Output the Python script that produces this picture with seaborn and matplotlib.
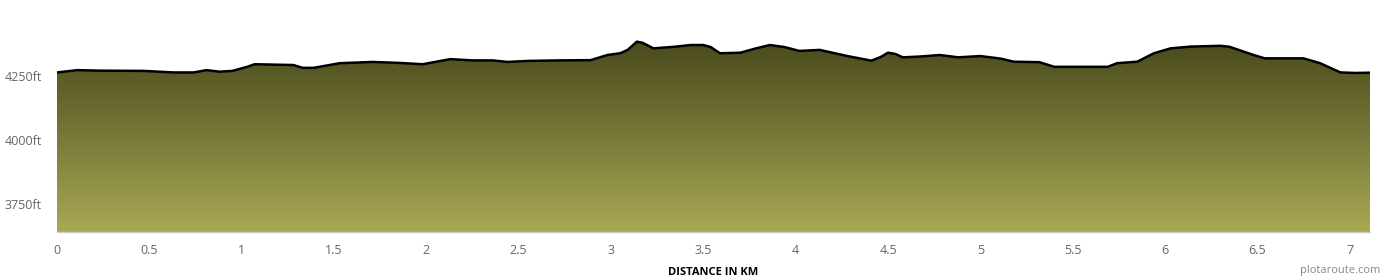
import numpy as np
import pandas as pd
import matplotlib
matplotlib.use("Agg")
import matplotlib.pyplot as plt
from matplotlib.colors import LinearSegmentedColormap
import seaborn as sns

distance_km = [0.0, 0.11, 0.23, 0.47, 0.63, 0.74, 0.81, 0.88, 0.95, 1.03, 1.07, 1.28, 1.33, 1.39,
               1.53, 1.71, 1.86, 1.98, 2.13, 2.25, 2.36, 2.44, 2.55, 2.72, 2.89, 2.98, 3.05, 3.09,
               3.14, 3.17, 3.23, 3.34, 3.43, 3.50, 3.54, 3.59, 3.70, 3.78, 3.86, 3.94, 4.02, 4.13,
               4.28, 4.41, 4.46, 4.50, 4.54, 4.58, 4.67, 4.78, 4.88, 5.00, 5.11, 5.18, 5.32, 5.40,
               5.69, 5.74, 5.85, 5.94, 6.03, 6.14, 6.30, 6.35, 6.48, 6.54, 6.75, 6.84, 6.95, 7.03, 7.11]
elevation_ft = [4264, 4273, 4271, 4270, 4264, 4264, 4273, 4267, 4270, 4286, 4296, 4293, 4282, 4282,
                4300, 4305, 4301, 4296, 4316, 4311, 4311, 4305, 4309, 4311, 4312, 4332, 4339, 4352,
                4384, 4380, 4358, 4364, 4371, 4371, 4363, 4339, 4341, 4357, 4371, 4363, 4348, 4352,
                4328, 4310, 4324, 4341, 4336, 4323, 4326, 4332, 4323, 4328, 4318, 4306, 4304, 4286,
                4286, 4300, 4306, 4339, 4358, 4365, 4368, 4364, 4332, 4319, 4319, 4300, 4264, 4262, 4263]
x_ticks = [0, 0.5, 1, 1.5, 2, 2.5, 3, 3.5, 4, 4.5, 5, 5.5, 6, 6.5, 7]
y_ticks = [3750, 4000, 4250]
y_tick_labels = ["3750ft", "4000ft", "4250ft"]

df = pd.DataFrame({"distance": distance_km, "elevation": elevation_ft})

sns.set_style("white")
plt.rcParams['font.family'] = ['Open Sans', 'DejaVu Sans']

fig = plt.figure(figsize=(13.9, 2.8), dpi=100)
ax = fig.add_axes([57/1390, (280-232)/280, (1370-57)/1390, (232-12)/280])

ymin, ymax = 3641, 4500
xmin, xmax = 0, 7.11
ax.set_xlim(xmin, xmax)
ax.set_ylim(ymin, ymax)

# gradient fill clipped to area under profile
poly = ax.fill_between(df["distance"], df["elevation"], ymin, color="none", lw=0)
cmap = LinearSegmentedColormap.from_list("olive", ["#a9a954", "#767a38", "#4a4a1c"])
grad = np.linspace(0, 1, 256).reshape(-1, 1)
top_elev = max(elevation_ft)
im = ax.imshow(grad, cmap=cmap, aspect="auto", origin="lower",
               extent=[xmin, xmax, ymin, top_elev], zorder=1)
path = poly.get_paths()[0]
im.set_clip_path(path, transform=ax.transData)

sns.lineplot(data=df, x="distance", y="elevation", color="black", lw=1.8, ax=ax, zorder=3)

for s in ["top", "right", "left"]:
    ax.spines[s].set_visible(False)
ax.spines["bottom"].set_color("#cccccc")
ax.spines["bottom"].set_linewidth(1)

ax.set_xticks(x_ticks)
ax.set_xticklabels([f"{v:g}" for v in x_ticks])
ax.set_yticks(y_ticks)
ax.set_yticklabels(y_tick_labels)
ax.tick_params(axis="x", direction="out", length=6, width=0.8, color="#c0c0c0",
               labelsize=9, labelcolor="#666666", pad=3)
ax.tick_params(axis="y", length=0, labelsize=9, labelcolor="#666666", pad=11)
ax.set_ylabel("")
ax.set_xlabel("DISTANCE IN KM", fontsize=8, fontweight="bold", color="black", labelpad=7)

fig.text(1380/1390, (280-271)/280, "plotaroute.com", ha="right", va="center",
         fontsize=8, color="#888888")

fig.savefig("out.png", dpi=100, facecolor="white")
